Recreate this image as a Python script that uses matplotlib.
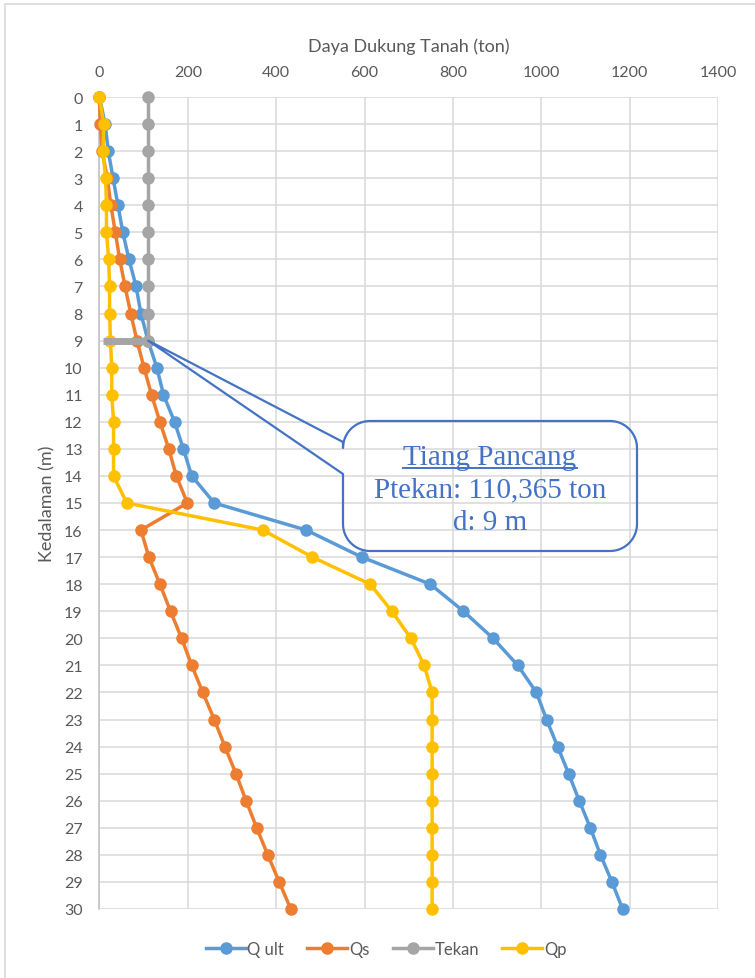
import numpy as np
import matplotlib
matplotlib.use("Agg")
import matplotlib.pyplot as plt
from matplotlib.path import Path
from matplotlib.patches import PathPatch, Rectangle
from matplotlib.lines import Line2D

# ---- data -------------------------------------------------------------
depth = list(range(0, 31))
q_ult = [0, 13, 20, 31, 42, 53, 67, 83, 94, 110, 130, 145, 170, 190, 209,
         260, 468, 594, 749, 824, 891, 947, 989, 1012, 1037, 1062, 1086,
         1111, 1134, 1160, 1184]
q_s = [0, 2, 6, 18, 26, 36, 46, 58, 71, 85, 101, 118, 137, 157, 174,
       199, 94, 112, 137, 161, 186, 209, 234, 260, 284, 309, 332, 356,
       381, 407, 433]
q_p = [0, 10, 8, 14, 16, 16, 21, 23, 23, 25, 28, 28, 32, 32, 32,
       62, 370, 482, 613, 662, 705, 735, 753, 753, 753, 753, 753, 753,
       753, 753, 753]
tekan_depth = list(range(0, 10))
p_tekan = 110.365
tekan = [p_tekan] * len(tekan_depth)
pile_depth = 9
x_ticks = [0, 200, 400, 600, 800, 1000, 1200, 1400]

series_names = ["Q ult", "Qs", "Tekan", "Qp"]
colors = ["#5B9BD5", "#ED7D31", "#A5A5A5", "#FFC000"]

# ---- figure -----------------------------------------------------------
W, H = 755, 979
fig = plt.figure(figsize=(W / 100, H / 100), dpi=100)
plt.rcParams['font.family'] = ['Lato', 'DejaVu Sans']

def fx(x):
    return x / W

def fy(y):
    return 1 - y / H

# chart frame
fig.patches.append(Rectangle((fx(5), fy(1000)), fx(800), fy(5) - fy(1000),
                             transform=fig.transFigure, fill=False,
                             edgecolor="#D9D9D9", linewidth=1.2))

ax = fig.add_axes([fx(99.4), fy(910), fx(718) - fx(99.4), fy(98) - fy(910)])
ax.set_xlim(0, 1400)
ax.set_ylim(30, 0)
ax.xaxis.tick_top()
ax.xaxis.set_label_position("top")
ax.set_xticks(x_ticks)
ax.set_yticks(depth)
ax.tick_params(axis="both", length=0, colors="#595959", labelsize=11.5)
ax.tick_params(axis="x", pad=13)
ax.tick_params(axis="y", pad=12)
ax.grid(True, color="#D9D9D9", linewidth=1.1)
ax.set_axisbelow(True)
for side in ["right", "bottom", "top"]:
    ax.spines[side].set_visible(False)
ax.spines["left"].set_color("#BFBFBF")
ax.spines["left"].set_linewidth(1.1)
ax.set_xlabel("Daya Dukung Tanah (ton)", fontsize=13, color="#595959",
              labelpad=10)
ax.set_ylabel("Kedalaman (m)", fontsize=13, color="#595959", labelpad=6)

common = dict(linewidth=2.5, marker="o", markersize=8, clip_on=False)
ax.plot(q_ult, depth, color=colors[0], label=series_names[0], zorder=3, **common)
ax.plot(q_s, depth, color=colors[1], label=series_names[1], zorder=4, **common)
ax.plot(tekan, tekan_depth, color=colors[2], label=series_names[2], zorder=5, **common)
ax.plot(q_p, depth, color=colors[3], label=series_names[3], zorder=6, **common)

# marker bar at pile tip depth
ax.plot([9, p_tekan], [pile_depth, pile_depth], color="#A5A5A5",
        linewidth=5, solid_capstyle="butt", zorder=6.5)

leg = fig.legend(loc="center", bbox_to_anchor=(fx(386), fy(950)), ncol=4,
                 frameon=False, fontsize=12, handlelength=2.4,
                 columnspacing=1.4, handletextpad=0.1, labelcolor="#595959")

# ---- callout ----------------------------------------------------------
fig.canvas.draw()
tip_disp = ax.transData.transform((p_tekan, pile_depth))
tip_px = (tip_disp[0], H - tip_disp[1])

L, R, T, B = 343, 637, 422, 552
r = 27
base_top, base_bot = 443, 475

def arc(cx, cy, a0, a1, n=20):
    a = np.linspace(np.radians(a0), np.radians(a1), n)
    return list(zip(cx + r * np.cos(a), cy + r * np.sin(a)))

pts = [(L, base_top), tip_px, (L, base_bot), (L, B - r)]
pts += arc(L + r, B - r, 180, 90)      # bottom-left (y down in pixel space)
pts += [(R - r, B)]
pts += arc(R - r, B - r, 90, 0)
pts += [(R, T + r)]
pts += arc(R - r, T + r, 0, -90)
pts += [(L + r, T)]
pts += arc(L + r, T + r, -90, -180)
pts += [(L, base_top)]
verts = [(fx(x), fy(y)) for x, y in pts]
fig.patches.append(PathPatch(Path(verts), transform=fig.transFigure,
                             fill=False, edgecolor="#4472C4", linewidth=1.6,
                             joinstyle="round", zorder=7))

cx = (L + R) / 2
serif = dict(family="Liberation Serif", fontsize=21, color="#4472C4",
             ha="center", va="center")
t1 = fig.text(fx(cx), fy(458), "Tiang Pancang", **serif)
fig.text(fx(cx), fy(490), "Ptekan: 110,365 ton", **serif)
fig.text(fx(cx), fy(523), "d: 9 m", **serif)

fig.canvas.draw()
bb = t1.get_window_extent()
fig.lines.append(Line2D([bb.x0 / W, bb.x1 / W], [fy(469), fy(469)],
                        transform=fig.transFigure, color="#4472C4",
                        linewidth=1.4))

fig.savefig("out.png", dpi=100)
